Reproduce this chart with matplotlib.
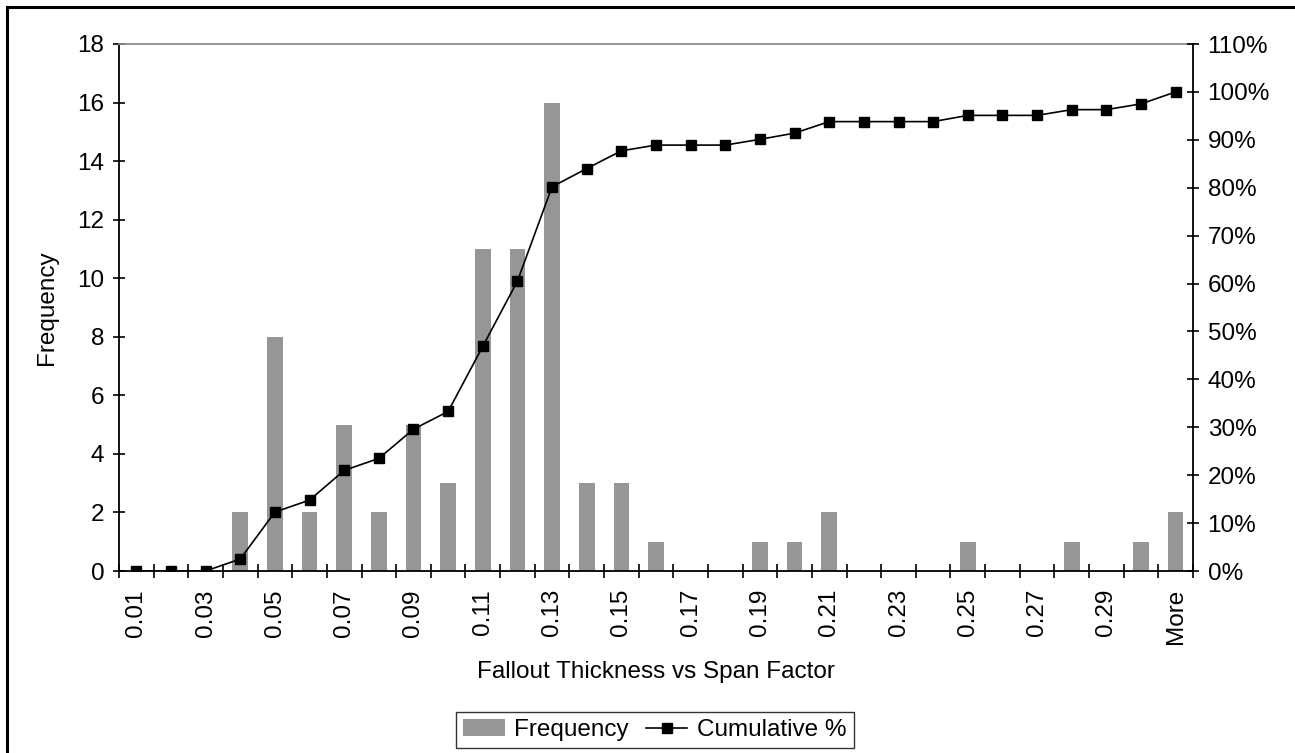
import matplotlib
matplotlib.use("Agg")
import matplotlib.pyplot as plt
from matplotlib.patches import Rectangle
from matplotlib.lines import Line2D
from matplotlib.patches import Patch
import numpy as np

plt.rcParams['font.family'] = ['Liberation Sans', 'DejaVu Sans']

categories = ["0.01", "0.02", "0.03", "0.04", "0.05", "0.06", "0.07", "0.08", "0.09", "0.10",
              "0.11", "0.12", "0.13", "0.14", "0.15", "0.16", "0.17", "0.18", "0.19", "0.20",
              "0.21", "0.22", "0.23", "0.24", "0.25", "0.26", "0.27", "0.28", "0.29", "0.30", "More"]
frequency = [0, 0, 0, 2, 8, 2, 5, 2, 5, 3, 11, 11, 16, 3, 3, 1, 0, 0, 1, 1,
             2, 0, 0, 0, 1, 0, 0, 1, 0, 1, 2]
cumulative_pct = [0.0, 0.0, 0.0, 2.5, 12.3, 14.8, 21.0, 23.5, 29.6, 33.3,
                  46.9, 60.5, 80.2, 84.0, 87.7, 88.9, 88.9, 88.9, 90.1, 91.4,
                  93.8, 93.8, 93.8, 93.8, 95.1, 95.1, 95.1, 96.3, 96.3, 97.5, 100.0]
xlabel_text = "Fallout Thickness vs Span Factor"
ylabel_text = "Frequency"

W, H = 1295, 753
fig = plt.figure(figsize=(W / 100, H / 100), dpi=100)
ax = fig.add_axes([119 / W, 1 - 571 / H, (1193 - 119) / W, (571 - 44) / H])

x = np.arange(len(categories))
FS = 17.5
ax.bar(x, frequency, width=0.45, color="#969696", zorder=2)
ax.set_xlim(-0.5, len(categories) - 0.5)
ax.set_ylim(0, 18)
ax.set_yticks(np.arange(0, 19, 2))
ax.tick_params(axis='y', direction='inout', length=9, width=1.2, labelsize=FS, pad=6)

# x ticks: boundaries as minor ticks, labels at every other category
ax.set_xticks(np.arange(-0.5, len(categories), 1.0), minor=True)
ax.set_xticks(x[::2])
ax.set_xticklabels([categories[i] for i in x[::2]], rotation=90, fontsize=FS)
ax.tick_params(axis='x', which='major', length=0, pad=13)
ax.tick_params(axis='x', which='minor', direction='inout', length=10, width=1.2)

for s in ['left', 'bottom']:
    ax.spines[s].set_color('black')
    ax.spines[s].set_linewidth(1.3)
ax.spines['top'].set_color('#8c8c8c')
ax.spines['top'].set_linewidth(1.3)
ax.spines['right'].set_visible(False)

ax.set_xlabel(xlabel_text, fontsize=FS, labelpad=12)
ax.set_ylabel(ylabel_text, fontsize=FS, labelpad=14)

ax2 = ax.twinx()
ax2.plot(x, cumulative_pct, color='black', lw=1.2, marker='s', markersize=7, zorder=3)
ax2.set_ylim(0, 110)
ax2.set_yticks(np.arange(0, 111, 10))
ax2.set_yticklabels([f"{v}%" for v in range(0, 111, 10)])
ax2.tick_params(axis='y', direction='inout', length=9, width=1.2, labelsize=FS, pad=6)
for s in ['left', 'bottom', 'top']:
    ax2.spines[s].set_visible(False)
ax2.spines['right'].set_color('black')
ax2.spines['right'].set_linewidth(1.3)

handles = [Patch(facecolor="#969696", edgecolor='none', label='Frequency'),
           Line2D([0], [0], color='black', lw=1.2, marker='s', markersize=6.5, label='Cumulative %')]
leg = fig.legend(handles=handles, loc='center', bbox_to_anchor=(655 / W, 1 - 730 / H), ncol=2,
                 fontsize=FS, frameon=True, fancybox=False, edgecolor='black',
                 handlelength=1.7, handletextpad=0.4, columnspacing=0.7, borderpad=0.3)
leg.get_frame().set_linewidth(1.0)

# outer chart border
fig.patches.append(Rectangle((7 / W, -0.01), 1.02, 1 - 7 / H + 0.01, transform=fig.transFigure,
                             fill=False, edgecolor='black', linewidth=2.2))

fig.savefig("out.png", dpi=100)
